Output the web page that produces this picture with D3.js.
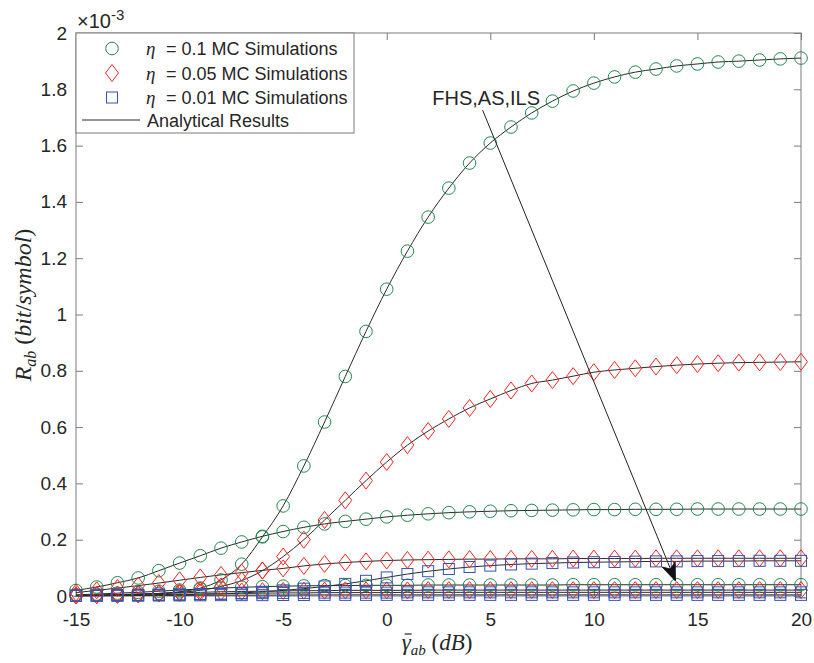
<!DOCTYPE html>
<html>
<head>
<meta charset="utf-8">
<script src="https://cdn.jsdelivr.net/npm/d3@7"></script>
<style>
  body { margin: 0; background: #fff; }
  svg { display: block; font-family: "Liberation Sans", Arial, sans-serif; }
</style>
</head>
<body>
<div id="chart"></div>
<script>
// SNR grid (dB)
const snrDb = [-15, -14, -13, -12, -11, -10, -9, -8, -7, -6, -5, -4, -3, -2, -1, 0,
    1, 2, 3, 4, 5, 6, 7, 8, 9, 10, 11, 12, 13, 14, 15, 16, 17, 18, 19, 20];

// secrecy rate, in units of 1e-3 bit/symbol
const eta01Fhs = [0.002, 0.003, 0.004, 0.006, 0.009, 0.015, 0.028, 0.057, 0.113, 0.21,
    0.32, 0.462, 0.618, 0.78, 0.94, 1.09, 1.225, 1.346, 1.449, 1.538,
    1.609, 1.666, 1.716, 1.758, 1.794, 1.822, 1.844, 1.861, 1.872, 1.883,
    1.89, 1.897, 1.9, 1.904, 1.908, 1.911];
const eta01As = [0.02, 0.032, 0.047, 0.064, 0.09, 0.117, 0.143, 0.17, 0.192, 0.212,
    0.229, 0.244, 0.256, 0.265, 0.273, 0.281, 0.287, 0.292, 0.296, 0.299,
    0.301, 0.303, 0.304, 0.305, 0.306, 0.307, 0.307, 0.308, 0.308, 0.308,
    0.309, 0.309, 0.309, 0.309, 0.309, 0.309];
const eta01Ils = [0.004, 0.007, 0.01, 0.013, 0.017, 0.021, 0.025, 0.028, 0.031, 0.033,
    0.035, 0.036, 0.037, 0.037, 0.038, 0.038, 0.038, 0.039, 0.039, 0.039,
    0.039, 0.039, 0.039, 0.039, 0.04, 0.04, 0.04, 0.04, 0.04, 0.04,
    0.04, 0.04, 0.04, 0.04, 0.04, 0.04];

const eta005Fhs = [0.002, 0.003, 0.004, 0.006, 0.009, 0.013, 0.02, 0.034, 0.055, 0.09,
    0.14, 0.2, 0.27, 0.34, 0.41, 0.476, 0.536, 0.586, 0.629, 0.668,
    0.7, 0.73, 0.755, 0.767, 0.781, 0.795, 0.803, 0.809, 0.815, 0.82,
    0.824, 0.827, 0.829, 0.83, 0.831, 0.832];
const eta005As = [0.012, 0.02, 0.028, 0.037, 0.046, 0.056, 0.066, 0.075, 0.083, 0.091,
    0.098, 0.107, 0.114, 0.119, 0.123, 0.126, 0.128, 0.129, 0.13, 0.131,
    0.131, 0.132, 0.132, 0.132, 0.133, 0.133, 0.133, 0.133, 0.134, 0.134,
    0.134, 0.134, 0.134, 0.134, 0.134, 0.134];
const eta005Ils = [0.002, 0.003, 0.005, 0.007, 0.009, 0.011, 0.013, 0.015, 0.016, 0.017,
    0.018, 0.019, 0.019, 0.02, 0.02, 0.02, 0.02, 0.021, 0.021, 0.021,
    0.021, 0.021, 0.021, 0.021, 0.021, 0.021, 0.021, 0.021, 0.021, 0.021,
    0.021, 0.021, 0.021, 0.021, 0.021, 0.021];

const eta001Fhs = [0.001, 0.001, 0.002, 0.002, 0.003, 0.004, 0.006, 0.008, 0.011, 0.015,
    0.02, 0.026, 0.034, 0.043, 0.054, 0.066, 0.078, 0.088, 0.096, 0.103,
    0.108, 0.112, 0.115, 0.117, 0.119, 0.12, 0.121, 0.122, 0.123, 0.123,
    0.124, 0.124, 0.124, 0.125, 0.125, 0.125];
const eta001As = [0.001, 0.002, 0.003, 0.004, 0.005, 0.006, 0.007, 0.008, 0.009, 0.01,
    0.011, 0.011, 0.012, 0.012, 0.012, 0.012, 0.013, 0.013, 0.013, 0.013,
    0.013, 0.013, 0.013, 0.013, 0.013, 0.013, 0.013, 0.013, 0.013, 0.013,
    0.013, 0.013, 0.013, 0.013, 0.013, 0.013];
const eta001Ils = [0.0005, 0.001, 0.001, 0.0015, 0.002, 0.002, 0.0025, 0.003, 0.003, 0.003,
    0.0035, 0.0035, 0.004, 0.004, 0.004, 0.004, 0.004, 0.004, 0.004, 0.004,
    0.004, 0.004, 0.004, 0.004, 0.004, 0.004, 0.004, 0.004, 0.004, 0.004,
    0.004, 0.004, 0.004, 0.004, 0.004, 0.004];

const xTicks = [-15, -10, -5, 0, 5, 10, 15, 20];
const yTicks = [0, 0.2, 0.4, 0.6, 0.8, 1, 1.2, 1.4, 1.6, 1.8, 2];
const legendLabels = ['= 0.1 MC Simulations', '= 0.05 MC Simulations', '= 0.01 MC Simulations'];

const width = 814;
const height = 663;
const margin = { top: 33, right: 13, bottom: 67, left: 76 };

const colors = { circle: '#1f8a4c', diamond: '#ff2222', square: '#3552b0' };

const series = [
    { values: eta01Fhs, marker: 'circle' },
    { values: eta01As, marker: 'circle' },
    { values: eta01Ils, marker: 'circle' },
    { values: eta005Fhs, marker: 'diamond' },
    { values: eta005As, marker: 'diamond' },
    { values: eta005Ils, marker: 'diamond' },
    { values: eta001Fhs, marker: 'square' },
    { values: eta001As, marker: 'square' },
    { values: eta001Ils, marker: 'square' }
];

const svg = d3.select('#chart')
    .append('svg')
    .attr('width', width)
    .attr('height', height);

const x = d3.scaleLinear().domain([-15, 20]).range([margin.left, width - margin.right]);
const y = d3.scaleLinear().domain([0, 2]).range([height - margin.bottom, margin.top]);

const axisColor = '#7a7a7a';

function styleAxis(g) {
    g.select('.domain').remove();
    g.selectAll('.tick line').attr('stroke', axisColor);
    g.selectAll('.tick text').attr('fill', '#262626').style('font-size', '19px');
}

// axes, ticks pointing inward on all four sides
svg.append('g')
    .attr('transform', `translate(0,${y(0)})`)
    .call(d3.axisBottom(x).tickValues(xTicks).tickSizeInner(-7).tickSizeOuter(0)
        .tickPadding(17).tickFormat(d => String(d)))
    .call(styleAxis);

svg.append('g')
    .attr('transform', `translate(0,${y(2)})`)
    .call(d3.axisTop(x).tickValues(xTicks).tickSizeInner(-7).tickSizeOuter(0).tickFormat(''))
    .call(styleAxis);

svg.append('g')
    .attr('transform', `translate(${x(-15)},0)`)
    .call(d3.axisLeft(y).tickValues(yTicks).tickSizeInner(-7).tickSizeOuter(0)
        .tickPadding(9).tickFormat(d => String(d)))
    .call(styleAxis);

svg.append('g')
    .attr('transform', `translate(${x(20)},0)`)
    .call(d3.axisRight(y).tickValues(yTicks).tickSizeInner(-7).tickSizeOuter(0).tickFormat(''))
    .call(styleAxis);

svg.append('rect')
    .attr('x', x(-15))
    .attr('y', y(2))
    .attr('width', x(20) - x(-15))
    .attr('height', y(0) - y(2))
    .attr('fill', 'none')
    .attr('stroke', axisColor)
    .attr('stroke-width', 1);

// exponent label
const expLabel = svg.append('text')
    .attr('x', x(-15) + 1)
    .attr('y', 28)
    .attr('fill', '#262626')
    .style('font-size', '20px');
expLabel.append('tspan').text('×10');
expLabel.append('tspan').attr('dy', -8).style('font-size', '15px').text('-3');

// analytical curves
const line = d3.line()
    .x((d, i) => x(snrDb[i]))
    .y(d => y(d))
    .curve(d3.curveMonotoneX);

svg.append('g')
    .selectAll('path')
    .data(series)
    .enter()
    .append('path')
    .attr('d', d => line(d.values))
    .attr('fill', 'none')
    .attr('stroke', '#2a2a2a')
    .attr('stroke-width', 1);

// simulation markers
function drawMarker(sel, type) {
    if (type === 'circle') {
        sel.append('circle').attr('r', 6.3);
    } else if (type === 'diamond') {
        sel.append('path').attr('d', 'M0,-8.5L6.5,0L0,8.5L-6.5,0Z');
    } else {
        sel.append('rect').attr('x', -5.5).attr('y', -5.5).attr('width', 11).attr('height', 11);
    }
    sel.selectAll('*')
        .attr('fill', 'none')
        .attr('stroke', colors[type])
        .attr('stroke-width', 1);
}

series.forEach(s => {
    svg.append('g')
        .selectAll('g')
        .data(s.values)
        .enter()
        .append('g')
        .attr('transform', (d, i) => `translate(${x(snrDb[i])},${y(d)})`)
        .each(function () { drawMarker(d3.select(this), s.marker); });
});

// annotation arrow
const arrowFrom = { db: 4.63, rate: 1.726 };
const arrowTo = { db: 13.94, rate: 0.053 };
const x0 = x(arrowFrom.db), y0 = y(arrowFrom.rate);
const x1 = x(arrowTo.db), y1 = y(arrowTo.rate);
const ang = Math.atan2(y1 - y0, x1 - x0);

svg.append('line')
    .attr('x1', x0).attr('y1', y0)
    .attr('x2', x1 - 12 * Math.cos(ang)).attr('y2', y1 - 12 * Math.sin(ang))
    .attr('stroke', '#222')
    .attr('stroke-width', 1);

svg.append('path')
    .attr('d', 'M0,0L-18,7L-13,0L-18,-7Z')
    .attr('transform', `translate(${x1},${y1}) rotate(${ang * 180 / Math.PI})`)
    .attr('fill', '#111')
    .attr('stroke', '#111')
    .attr('stroke-width', 0.8);

svg.append('text')
    .attr('x', x(4.8))
    .attr('y', 105)
    .attr('text-anchor', 'middle')
    .attr('fill', '#262626')
    .style('font-size', '20px')
    .text('FHS,AS,ILS');

// legend
const legend = svg.append('g');
legend.append('rect')
    .attr('x', x(-15))
    .attr('y', y(2))
    .attr('width', 278)
    .attr('height', 100)
    .attr('fill', '#fff')
    .attr('stroke', axisColor);

const rowY = [48.5, 73, 97.5, 120];
['circle', 'diamond', 'square'].forEach((m, i) => {
    const g = legend.append('g').attr('transform', `translate(112,${rowY[i]})`);
    drawMarker(g, m);
    const t = legend.append('text')
        .attr('y', rowY[i] + 6.5)
        .attr('fill', '#262626')
        .style('font-size', '18px');
    t.append('tspan')
        .attr('x', 146)
        .style('font-family', '"Liberation Serif", serif')
        .style('font-style', 'italic')
        .style('font-size', '19px')
        .text('η');
    t.append('tspan').attr('x', 166).text(legendLabels[i]);
});

legend.append('line')
    .attr('x1', 82).attr('x2', 140)
    .attr('y1', rowY[3]).attr('y2', rowY[3])
    .attr('stroke', '#2a2a2a');
legend.append('text')
    .attr('x', 147)
    .attr('y', rowY[3] + 6.5)
    .attr('fill', '#262626')
    .style('font-size', '18px')
    .text('Analytical Results');

// axis titles (math style)
const serif = '"Liberation Serif", "Times New Roman", serif';

const xLabel = svg.append('text')
    .attr('x', 437)
    .attr('y', 650)
    .attr('text-anchor', 'middle')
    .attr('fill', '#262626')
    .style('font-family', serif)
    .style('font-size', '23px');
xLabel.append('tspan').style('font-style', 'italic').text('γ');
xLabel.append('tspan').style('font-style', 'italic').style('font-size', '15px').attr('dy', 5).text('ab');
xLabel.append('tspan').attr('dy', -5).text(' (');
xLabel.append('tspan').style('font-style', 'italic').text('dB');
xLabel.append('tspan').text(')');

const gBox = xLabel.node().getExtentOfChar(0);
svg.append('line')
    .attr('x1', gBox.x + 3).attr('x2', gBox.x + gBox.width + 1)
    .attr('y1', 650 - 16).attr('y2', 650 - 16)
    .attr('stroke', '#262626')
    .attr('stroke-width', 1.2);

const yLabel = svg.append('text')
    .attr('transform', 'translate(31,305) rotate(-90)')
    .attr('text-anchor', 'middle')
    .attr('fill', '#262626')
    .style('font-family', serif)
    .style('font-size', '24px');
yLabel.append('tspan').style('font-style', 'italic').text('R');
yLabel.append('tspan').style('font-style', 'italic').style('font-size', '16px').attr('dy', 5).text('ab');
yLabel.append('tspan').attr('dy', -5).text(' (');
yLabel.append('tspan').style('font-style', 'italic').text('bit');
yLabel.append('tspan').text('/');
yLabel.append('tspan').style('font-style', 'italic').text('symbol');
yLabel.append('tspan').text(')');
</script>
</body>
</html>
